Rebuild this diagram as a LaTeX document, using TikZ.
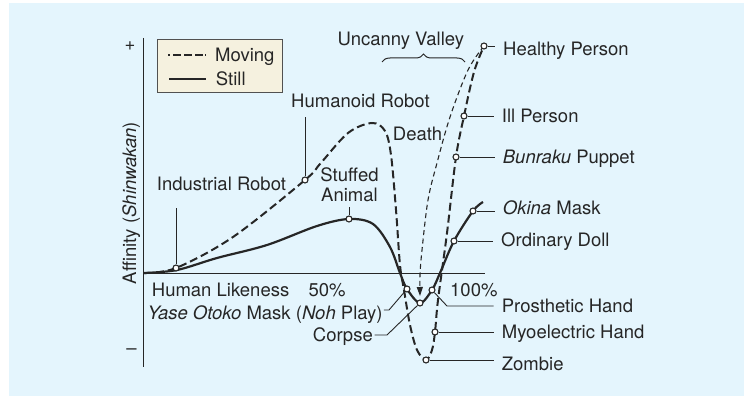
\documentclass[tikz,border=0pt]{standalone}
\usepackage{fontspec}
\setmainfont{TeX Gyre Heros}
\usetikzlibrary{arrows.meta,decorations.pathreplacing}
\definecolor{bgblue}{HTML}{E4F5FD}
\definecolor{legbg}{HTML}{F5F1DF}
\definecolor{ink}{HTML}{262626}
\begin{document}
\begin{tikzpicture}[x=1pt,y=-1pt,
  font=\fontsize{18.5}{19.4}\selectfont, text=ink, draw=ink,
  lbl/.style={inner sep=0pt, anchor=base west},
  rl/.style={inner xsep=8pt, inner ysep=0pt, anchor=base west},
  pt/.style={circle, draw=ink, fill=white, line width=1.1pt, inner sep=0pt, minimum size=6pt},
  movecurve/.style={line width=2pt, dash pattern=on 8pt off 4pt, draw=ink},
  stillcurve/.style={line width=2.2pt, draw=ink},
  deathcurve/.style={line width=1.1pt, dash pattern=on 5pt off 3.5pt, draw=ink},
  lead/.style={line width=0.9pt, draw=ink},
  axis/.style={line width=1.6pt, draw=ink},
  legbox/.style={draw=ink!80, fill=legbg, line width=1pt, inner sep=0pt, anchor=north west}
]
\useasboundingbox (0,0) rectangle (744,396);
\fill[white] (0,0) rectangle (744,396);
\fill[bgblue] (9,3) rectangle (744,396);

% axes
\coordinate (yTop) at (143.3,38);
\coordinate (yBot) at (143.3,367);
\coordinate (xL) at (143.3,273.3);
\coordinate (xR) at (485,273.3);
\draw[axis] (yTop) -- (yBot);
\draw[axis] (xL) -- (xR);
\node[inner sep=0pt] (plus) at (130,46.5) {+};
\node[inner sep=0pt] (minus) at (131.5,352) {\textendash};
\node[inner sep=0pt, anchor=base, rotate=90] (ylab) at (136,203) {Affinity (\textit{Shinwakan})};

% legend
\node[legbox, minimum width=125pt, minimum height=53pt] (legend) at (157.3,39) {};
\coordinate (lgA) at (168.3,55);
\coordinate (lgB) at (206,55);
\coordinate (lgC) at (169,79);
\coordinate (lgD) at (206,79);
\draw[line width=1.6pt, dash pattern=on 2pt off 3pt on 8pt off 3pt on 8pt off 3pt on 8pt] (lgA) -- (lgB);
\draw[line width=1.6pt] (lgC) -- (lgD);
\node[lbl] (tMoving) at (215,61.7) {Moving};
\node[lbl] (tStill) at (215.7,85) {Still};

% curves
\draw[stillcurve] plot[smooth, tension=0.55] coordinates {
  (144,273) (177,270) (217,258) (267,245) (317,226) (349,219) (373,224)
  (390,247) (400,273) (407,289) (420,303) (432,290) (440,273) (454,241)
  (473,211) (483,202)};
\draw[movecurve] plot[smooth, tension=0.55] coordinates {
  (144,273) (176,268) (233,237) (305,180) (320,164) (348,133) (372,123)
  (385,131) (391,155) (396,210) (400,265) (404,290) (410,325) (417,350)
  (426,360) (432,350) (435,332) (438,300) (447,233) (456,157) (464,116)
  (474,72) (484,46)};
\draw[deathcurve, -{Triangle[length=9pt,width=6pt]}] plot[smooth, tension=0.55] coordinates {
  (484,46) (468,70) (450,117) (437,163) (428,200) (422,250) (420,275) (420,296)};

% brace
\coordinate (brL) at (382,62);
\coordinate (brR) at (465,62);
\draw[line width=1pt, decorate, decoration={brace, amplitude=8pt}] (brL) -- (brR);
\node[lbl] (tUncanny) at (337.3,46) {Uncanny Valley};

% points
\node[pt] (pInd) at (176,268) {};
\node[pt] (pHum) at (305,180) {};
\node[pt] (pStuff) at (349,219) {};
\node[pt] (pHealthy) at (484,46) {};
\node[pt] (pIll) at (464,116) {};
\node[pt] (pBun) at (456,157) {};
\node[pt] (pOkina) at (473,211) {};
\node[pt] (pDoll) at (454,241) {};
\node[pt] (pYase) at (407,289) {};
\node[pt] (pCorpse) at (420,303) {};
\node[pt] (pPros) at (432,290) {};
\node[pt] (pMyo) at (435,332) {};
\node[pt] (pZombie) at (426,360) {};

% right labels
\node[rl] (lHealthy) at (495,56) {Healthy Person};
\node[rl] (lIll) at (493.7,122.7) {Ill Person};
\node[rl] (lBun) at (494.7,163.3) {\textit{Bunraku} Puppet};
\node[rl] (lOkina) at (494.7,214.3) {\textit{Okina} Mask};
\node[rl] (lDoll) at (493,246.7) {Ordinary Doll};
\node[rl] (lPros) at (493.7,312.7) {Prosthetic Hand};
\node[rl] (lMyo) at (493.7,338.3) {Myoelectric Hand};
\node[rl] (lZombie) at (493.7,370.7) {Zombie};

\draw[lead] (pHealthy) -- (pHealthy -| lHealthy.west);
\draw[lead] (pIll) -- (pIll -| lIll.west);
\draw[lead] (pBun) -- (pBun -| lBun.west);
\draw[lead] (pOkina) -- (pOkina -| lOkina.west);
\draw[lead] (pDoll) -- (pDoll -| lDoll.west);
\coordinate (kPros) at (447,306);
\draw[lead] (pPros) -- (kPros) -- (kPros -| lPros.west);
\draw[lead] (pMyo) -- (pMyo -| lMyo.west);
\draw[lead] (pZombie) -- (pZombie -| lZombie.west);

% left / axis labels
\node[lbl] (l100) at (450,296.7) {100\%};
\node[lbl] (lHL) at (151.7,296.3) {Human Likeness};
\node[lbl] (l50) at (308.3,296.3) {50\%};
\node[inner xsep=1pt, inner ysep=0pt, anchor=base west] (lYase) at (146.3,319.7) {\textit{Yase Otoko} Mask (\textit{Noh} Play)};
\node[inner xsep=1.5pt, inner ysep=0pt, anchor=base east] (lCorpse) at (374.5,341.7) {Corpse};
\coordinate (kYase) at (389,310);
\draw[lead] (kYase -| lYase.east) -- (kYase) -- (pYase);
\coordinate (kCorpse) at (387,335);
\draw[lead] (kCorpse -| lCorpse.east) -- (kCorpse) -- (pCorpse);

\node[lbl] (lInd) at (156.7,190) {Industrial Robot};
\coordinate (tInd) at (176,208);
\draw[lead] (tInd) -- (pInd);
\node[inner sep=0pt, align=center, anchor=south] (lStuff) at (349.5,201.7) {Stuffed\\Animal};
\coordinate (tStuff) at (349,207);
\draw[lead] (tStuff) -- (pStuff);
\node[lbl] (lHum) at (291,107.3) {Humanoid Robot};
\coordinate (tHum) at (305,117);
\draw[lead] (tHum) -- (pHum);
\node[lbl] (lDeath) at (392.7,140) {Death};
\end{tikzpicture}
\end{document}
